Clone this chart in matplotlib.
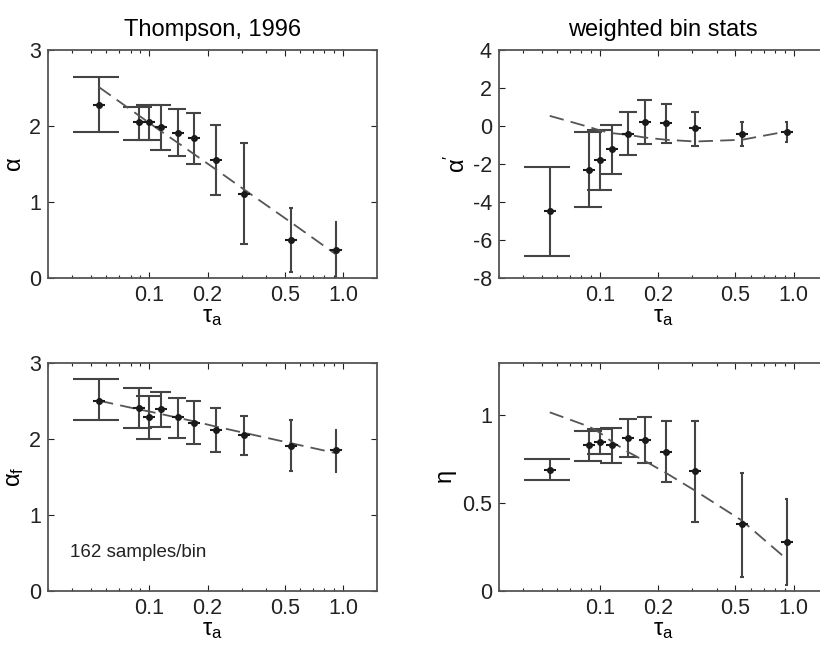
import matplotlib.pyplot as plt
import matplotlib as mpl
import numpy as np
from matplotlib.ticker import FixedLocator, LogLocator, NullFormatter

mpl.rcParams['font.family'] = ['Liberation Sans', 'DejaVu Sans']
mpl.rcParams['mathtext.fontset'] = 'custom'
mpl.rcParams['mathtext.rm'] = 'Liberation Sans'
mpl.rcParams['mathtext.it'] = 'Liberation Sans'

# aerosol optical depth bin centres (same for every panel)
tau = [0.055, 0.088, 0.1, 0.115, 0.14, 0.17, 0.22, 0.31, 0.54, 0.92]

# alpha (Thompson, 1996)
alpha = [2.27, 2.05, 2.05, 1.98, 1.91, 1.84, 1.55, 1.11, 0.50, 0.37]
alpha_hi = [2.65, 2.25, 2.27, 2.27, 2.22, 2.17, 2.01, 1.77, 0.92, 0.74]
alpha_lo = [1.92, 1.82, 1.82, 1.68, 1.61, 1.50, 1.09, 0.45, 0.08, 0.0]
alpha_fit = [2.51, 2.14, 2.04, 1.93, 1.78, 1.63, 1.43, 1.16, 0.73, 0.31]

# alpha' (weighted bin stats)
alphap = [-4.50, -2.34, -1.80, -1.24, -0.41, 0.22, 0.13, -0.13, -0.41, -0.31]
alphap_hi = [-2.17, -0.34, -0.24, 0.06, 0.74, 1.35, 1.14, 0.74, 0.23, 0.23]
alphap_lo = [-6.84, -4.25, -3.37, -2.52, -1.55, -0.96, -0.92, -1.05, -1.06, -0.87]
alphap_fit = [0.53, -0.06, -0.24, -0.38, -0.47, -0.61, -0.73, -0.82, -0.73, -0.29]

# alpha_f
alphaf = [2.50, 2.40, 2.28, 2.39, 2.28, 2.21, 2.12, 2.05, 1.90, 1.85]
alphaf_hi = [2.78, 2.66, 2.56, 2.61, 2.53, 2.49, 2.40, 2.30, 2.24, 2.12]
alphaf_lo = [2.24, 2.14, 2.00, 2.16, 2.01, 1.93, 1.83, 1.79, 1.57, 1.56]
alphaf_fit = [2.50, 2.385, 2.358, 2.324, 2.276, 2.229, 2.16, 2.076, 1.94, 1.81]

# eta
eta = [0.69, 0.83, 0.85, 0.83, 0.87, 0.86, 0.79, 0.68, 0.38, 0.28]
eta_hi = [0.75, 0.91, 0.92, 0.93, 0.98, 0.99, 0.97, 0.97, 0.67, 0.52]
eta_lo = [0.63, 0.74, 0.78, 0.73, 0.76, 0.73, 0.62, 0.39, 0.08, 0.03]
eta_fit = [1.017, 0.935, 0.90, 0.85, 0.79, 0.74, 0.67, 0.57, 0.40, 0.18]

xticks = [0.1, 0.2, 0.5, 1.0]
xticklabels = ['0.1', '0.2', '0.5', '1.0']

W, H = 820, 649
# small offset so the pixel size does not round down to 819
fig = plt.figure(figsize=(W / 100 + 1e-3, H / 100 + 1e-3), dpi=100)

def add_ax(x0, y0, w, h):
    return fig.add_axes([x0 / W, 1 - (y0 + h) / H, w / W, h / H])

ecol = '#444444'
FS = 15.5

def panel(ax, y, hi, lo, fit, ylim, yticks, yticklabels, ylabel, cut=False):
    x = np.array(tau)
    y = np.array(y)
    capw = 0.0147  # cap half width in data units (matlab style)
    ax.vlines(x, lo, hi, color=ecol, lw=1.5)
    ax.hlines(hi, x - capw, x + capw, color=ecol, lw=1.5)
    ax.hlines(lo, x - capw, x + capw, color=ecol, lw=1.5)
    ax.plot(x, fit, ls=(0, (8, 4)), color='#555555', lw=1.3)
    ax.plot(x, y, ls='none', marker='o', ms=4, color='#1a1a1a')
    ax.plot(x, y, ls='none', marker='_', ms=9, mew=1.5, color='#1a1a1a')
    ax.set_xscale('log')
    ax.set_xlim(0.03, 1.5)
    ax.set_ylim(*ylim)
    ax.xaxis.set_major_locator(FixedLocator(xticks))
    ax.set_xticklabels(xticklabels)
    ax.xaxis.set_minor_locator(LogLocator(base=10, subs=np.arange(2, 10)))
    ax.xaxis.set_minor_formatter(NullFormatter())
    ax.set_yticks(yticks)
    ax.set_yticklabels(yticklabels)
    ax.tick_params(which='both', direction='in', top=True, right=not cut,
                   labelsize=FS, colors='#222222')
    ax.tick_params(which='major', length=4, width=0.8, pad=5)
    ax.tick_params(which='minor', length=2.5, width=0.8)
    for s in ax.spines.values():
        s.set_color('#555555')
        s.set_linewidth(1.3)
    if cut:
        # right-hand panels run off the edge of the page in the original
        ax.spines['right'].set_visible(False)
    ax.set_xlabel(r'$\mathrm{\tau_a}$', fontsize=FS + 1.5, labelpad=0)
    ax.set_ylabel(ylabel, fontsize=FS + 1.5, labelpad=2)

ax1 = add_ax(48, 50, 329, 228)
panel(ax1, alpha, alpha_hi, alpha_lo, alpha_fit, (0, 3), [0, 1, 2, 3],
      ['0', '1', '2', '3'], r'$\mathrm{\alpha}$')
ax1.set_title('Thompson, 1996', fontsize=17, pad=10)

ax2 = add_ax(498.7, 50, 329, 228)
panel(ax2, alphap, alphap_hi, alphap_lo, alphap_fit, (-8, 4),
      [-8, -6, -4, -2, 0, 2, 4], ['-8', '-6', '-4', '-2', '0', '2', '4'],
      r"$\mathrm{\alpha'}$", cut=True)
ax2.set_title('weighted bin stats', fontsize=17, pad=10)

ax3 = add_ax(48, 362.7, 329, 228)
panel(ax3, alphaf, alphaf_hi, alphaf_lo, alphaf_fit, (0, 3), [0, 1, 2, 3],
      ['0', '1', '2', '3'], r'$\mathrm{\alpha_f}$')
ax3.text(0.039, 0.5, '162 samples/bin', fontsize=13.5, va='center',
         ha='left', color='#222222')

ax4 = add_ax(498.7, 362.7, 329, 228)
panel(ax4, eta, eta_hi, eta_lo, eta_fit, (0, 1.3), [0, 0.5, 1],
      ['0', '0.5', '1'], r'$\mathrm{\eta}$', cut=True)

fig.savefig('out.png', dpi=100)
